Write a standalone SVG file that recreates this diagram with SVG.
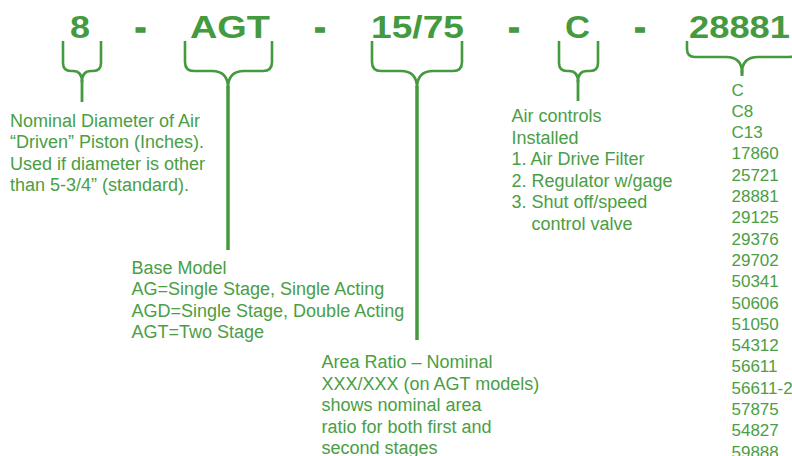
<svg xmlns="http://www.w3.org/2000/svg" width="792" height="456" viewBox="0 0 792 456">
<style>
.code{font-family:"Liberation Sans",Arial,sans-serif;font-weight:bold;font-size:32px;fill:#449a3e}
.dash{font-family:"Liberation Sans",Arial,sans-serif;font-weight:bold;font-size:34px;fill:#449a3e;stroke:#449a3e;stroke-width:1.6;text-anchor:middle}
.t{font-family:"Liberation Sans",Arial,sans-serif;font-size:18px;fill:#4a9e44}
.n{font-family:"Liberation Sans",Arial,sans-serif;font-size:17px;fill:#4a9e44}
.br{fill:none;stroke:#449a3e;stroke-width:2.6;stroke-linejoin:round}
.stem{fill:none;stroke:#449a3e;stroke-width:3.5}
</style>
<rect width="792" height="456" fill="#ffffff"/>
<g id="code">
<text class="code" x="70" y="38" textLength="20" lengthAdjust="spacingAndGlyphs">8</text>
<text class="dash" x="140.5" y="38.5" textLength="11" lengthAdjust="spacingAndGlyphs">-</text>
<text class="code" x="190" y="38" textLength="80" lengthAdjust="spacingAndGlyphs">AGT</text>
<text class="dash" x="320" y="38.5" textLength="11" lengthAdjust="spacingAndGlyphs">-</text>
<text class="code" x="371" y="38" textLength="93" lengthAdjust="spacingAndGlyphs">15/75</text>
<text class="dash" x="514" y="38.5" textLength="11" lengthAdjust="spacingAndGlyphs">-</text>
<text class="code" x="565" y="38" textLength="25" lengthAdjust="spacingAndGlyphs">C</text>
<text class="dash" x="640" y="38.5" textLength="11" lengthAdjust="spacingAndGlyphs">-</text>
<text class="code" x="689" y="38" textLength="101" lengthAdjust="spacingAndGlyphs">28881</text>
</g>
<g id="connectors">
<path class="br" d="M63,41 V63 Q63,71 71,71 H73 Q82,71 82,82 Q82,71 91,71 H93 Q101,71 101,63 V41"/>
<path class="stem" d="M82,80 V102" style="stroke-width:2.8"/>
<path class="br" d="M185,41 V62 Q185,71 194,71 H212 Q228,71 228,88 Q228,71 244,71 H263 Q272,71 272,62 V41"/>
<path class="stem" d="M228,86 V250"/>
<path class="br" d="M372,41 V62 Q372,71 381,71 H401 Q417,71 417,88 Q417,71 433,71 H453 Q462,71 462,62 V41"/>
<path class="stem" d="M417,86 V340"/>
<path class="br" d="M559,41 V63 Q559,71 567,71 H569 Q578,71 578,82 Q578,71 587,71 H590 Q598,71 598,63 V41"/>
<path class="stem" d="M578,80 V101" style="stroke-width:2.8"/>
<path class="br" d="M687,41 V49 Q687,57 695,57 H726 Q742,57 742,73 Q742,57 758,57 H789 Q797,57 797,49 V41"/>
<path class="stem" d="M742,70 V76" style="stroke-width:3"/>
</g>
<g id="diameter">
<text class="t" x="10" y="126.5">Nominal Diameter of Air</text>
<text class="t" x="10" y="148">“Driven” Piston (Inches).</text>
<text class="t" x="10" y="169.5">Used if diameter is other</text>
<text class="t" x="10" y="191">than 5-3/4” (standard).</text>
</g>
<g id="base-model">
<text class="t" x="131.5" y="273.5">Base Model</text>
<text class="t" x="131.5" y="295">AG=Single Stage, Single Acting</text>
<text class="t" x="131.5" y="316.5">AGD=Single Stage, Double Acting</text>
<text class="t" x="131.5" y="338">AGT=Two Stage</text>
</g>
<g id="area-ratio">
<text class="t" x="321.5" y="368">Area Ratio – Nominal</text>
<text class="t" x="321.5" y="389.5">XXX/XXX (on AGT models)</text>
<text class="t" x="321.5" y="411">shows nominal area</text>
<text class="t" x="321.5" y="432.5">ratio for both first and</text>
<text class="t" x="321.5" y="454">second stages</text>
</g>
<g id="air-controls">
<text class="t" x="511.5" y="122">Air controls</text>
<text class="t" x="511.5" y="143.5">Installed</text>
<text class="t" x="511.5" y="165">1. Air Drive Filter</text>
<text class="t" x="511.5" y="186.5">2. Regulator w/gage</text>
<text class="t" x="511.5" y="208">3. Shut off/speed</text>
<text class="t" x="531.5" y="229.5">control valve</text>
</g>
<g id="options">
<text class="n" x="731.5" y="95.5">C</text>
<text class="n" x="731.5" y="116.8">C8</text>
<text class="n" x="731.5" y="138.1">C13</text>
<text class="n" x="731.5" y="159.4">17860</text>
<text class="n" x="731.5" y="180.7">25721</text>
<text class="n" x="731.5" y="202">28881</text>
<text class="n" x="731.5" y="223.3">29125</text>
<text class="n" x="731.5" y="244.6">29376</text>
<text class="n" x="731.5" y="265.9">29702</text>
<text class="n" x="731.5" y="287.2">50341</text>
<text class="n" x="731.5" y="308.5">50606</text>
<text class="n" x="731.5" y="329.8">51050</text>
<text class="n" x="731.5" y="351.1">54312</text>
<text class="n" x="731.5" y="372.4">56611</text>
<text class="n" x="731.5" y="393.7">56611-2</text>
<text class="n" x="731.5" y="415">57875</text>
<text class="n" x="731.5" y="436.3">54827</text>
<text class="n" x="731.5" y="457.6">59888</text>
</g>
</svg>
